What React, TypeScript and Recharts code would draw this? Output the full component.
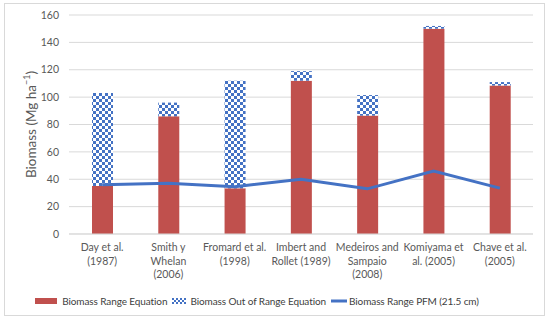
import React from 'react';
import { ComposedChart, Bar, Line, XAxis, YAxis, CartesianGrid, Legend } from 'recharts';

const categories = [
  'Day et al.\n(1987)',
  'Smith y\nWhelan\n(2006)',
  'Fromard et al.\n(1998)',
  'Imbert and\nRollet (1989)',
  'Medeiros and\nSampaio\n(2008)',
  'Komiyama et\nal. (2005)',
  'Chave et al.\n(2005)',
];
const rangeEquation = [35, 86, 33.5, 112, 86.5, 150, 108.5];
const outOfRange = [68, 10, 78.5, 7, 15, 2, 2.5];
const rangePFM = [36, 37, 34.5, 40, 33, 46, 33.5];
const yTicks = [0, 20, 40, 60, 80, 100, 120, 140, 160];
const seriesNames = ['Biomass Range Equation', 'Biomass Out of Range Equation', 'Biomass Range PFM (21.5 cm)'];

const data = categories.map((name, i) => ({
  name,
  range: rangeEquation[i],
  out: outOfRange[i],
  pfm: rangePFM[i],
}));

const RED = '#C0504D';
const BLUE = '#4472C4';
const TXT = '#595959';
const FONT = 'Lato, "Open Sans", sans-serif';

const XTick = (props: any) => {
  const { x, y, payload } = props;
  const lines = String(payload.value).split('\n');
  return (
    <text x={x} y={y} textAnchor="middle" fill={TXT} fontSize={10.5} fontFamily={FONT}>
      {lines.map((l, i) => (
        <tspan key={i} x={x} dy={i === 0 ? '0.71em' : 13.5}>{l}</tspan>
      ))}
    </text>
  );
};

const YLabel = (props: any) => {
  const vb = props.viewBox || { x: 0, y: 0, width: 69, height: 0 };
  const cx = vb.x + 31;
  const cy = vb.y + vb.height / 2;
  return (
    <text
      x={cx}
      y={cy}
      transform={`rotate(-90, ${cx}, ${cy})`}
      textAnchor="middle"
      dominantBaseline="central"
      fill={TXT}
      fontSize={13.5}
      fontFamily={FONT}
    >
      <tspan>Biomass  (Mg ha</tspan>
      <tspan dy={-5} fontSize={9}>−1</tspan>
      <tspan dy={5}>)</tspan>
    </text>
  );
};

const LegendContent = () => (
  <div style={{ display: 'flex', justifyContent: 'center', alignItems: 'center', fontFamily: FONT, fontSize: 10, letterSpacing: -0.1, color: '#404040', fontWeight: 400, whiteSpace: 'nowrap', width: 514 }}>
    <span style={{ display: 'inline-flex', alignItems: 'center', marginRight: 5 }}>
      <svg width={22} height={6} style={{ marginRight: 5 }}><rect width={22} height={6} fill={RED} /></svg>
      {seriesNames[0]}
    </span>
    <span style={{ display: 'inline-flex', alignItems: 'center', marginRight: 5 }}>
      <svg width={14} height={6} style={{ marginRight: 4 }}>
        <defs>
          <pattern id="checkerLeg" width={4} height={4} patternUnits="userSpaceOnUse">
            <rect width={4} height={4} fill="#fff" />
            <rect width={2} height={2} fill={BLUE} />
            <rect x={2} y={2} width={2} height={2} fill={BLUE} />
          </pattern>
        </defs>
        <rect width={14} height={6} fill="url(#checkerLeg)" />
      </svg>
      {seriesNames[1]}
    </span>
    <span style={{ display: 'inline-flex', alignItems: 'center' }}>
      <svg width={16} height={6} style={{ marginRight: 2 }}><line x1={0} y1={3} x2={16} y2={3} stroke={BLUE} strokeWidth={3} /></svg>
      {seriesNames[2]}
    </span>
  </div>
);

export default function App() {
  return (
    <div style={{ position: 'absolute', left: 0, top: 0, width: 550, height: 322, background: '#fff' }}>
      <div style={{ position: 'absolute', left: 4, top: 3, width: 541, height: 313, border: '1px solid #d9d9d9', boxSizing: 'border-box' as const }} />
      <div style={{ position: 'absolute', left: 0, top: 0 }}>
        <ComposedChart width={550} height={322} data={data} margin={{ top: 15, right: 17, left: 0, bottom: 5 }} barGap={0}>
          <defs>
            <pattern id="checker" width={6} height={6} patternUnits="userSpaceOnUse">
              <rect width={6} height={6} fill="#fff" />
              <rect width={3} height={3} fill={BLUE} />
              <rect x={3} y={3} width={3} height={3} fill={BLUE} />
            </pattern>
          </defs>
          <CartesianGrid vertical={false} stroke="#d9d9d9" strokeWidth={1} />
          <XAxis
            dataKey="name"
            interval={0}
            tick={<XTick />}
            tickLine={false}
            axisLine={{ stroke: '#d9d9d9' }}
            height={61}
            tickMargin={4}
          />
          <YAxis
            width={69}
            domain={[0, 160]}
            ticks={yTicks}
            axisLine={false}
            tickLine={false}
            tickMargin={4}
            tick={{ fill: TXT, fontSize: 10.5, fontFamily: FONT }}
            label={<YLabel />}
          />
          <Bar dataKey="range" stackId="a" fill={RED} barSize={21} isAnimationActive={false} name={seriesNames[0]} />
          <Bar dataKey="out" stackId="a" fill="url(#checker)" barSize={21} isAnimationActive={false} name={seriesNames[1]} />
          <Line dataKey="pfm" type="linear" stroke={BLUE} strokeWidth={3} dot={false} activeDot={false} isAnimationActive={false} name={seriesNames[2]} />
          <Legend verticalAlign="bottom" height={22} content={<LegendContent />} wrapperStyle={{ left: 0, width: 514 }} />
        </ComposedChart>
      </div>
    </div>
  );
}
